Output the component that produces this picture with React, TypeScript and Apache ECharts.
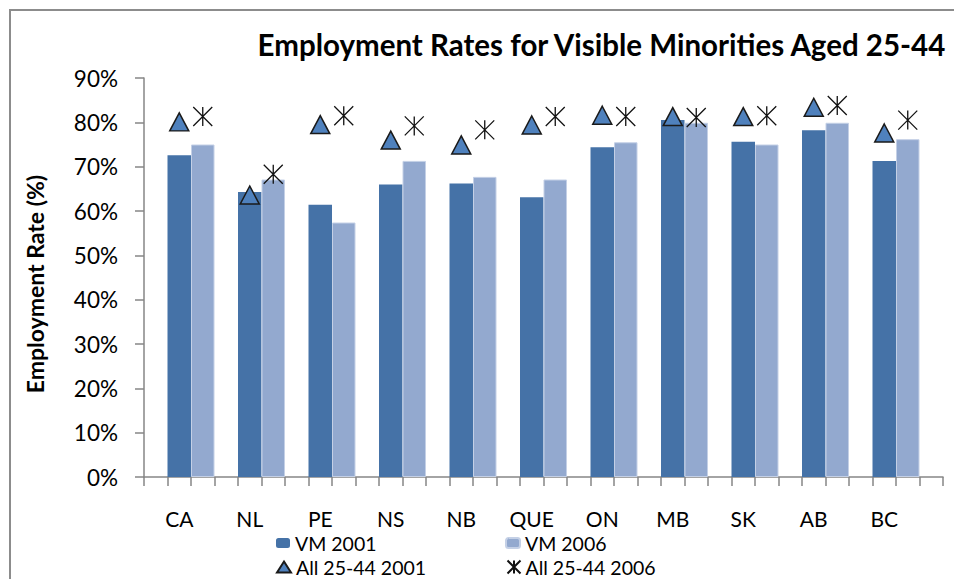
import React, { useEffect, useRef } from "react";
import * as echarts from "echarts";

const categories = ["CA", "NL", "PE", "NS", "NB", "QUE", "ON", "MB", "SK", "AB", "BC"];
const vm2001 = [72.6, 64.3, 61.4, 66.0, 66.2, 63.1, 74.4, 80.5, 75.6, 78.2, 71.3];
const vm2006 = [75.0, 67.1, 57.4, 71.3, 67.7, 67.1, 75.5, 79.9, 75.0, 79.9, 76.2];
const all2001 = [80.1, 63.6, 79.5, 76.0, 74.9, 79.4, 81.6, 81.3, 81.3, 83.4, 77.6];
const all2006 = [81.3, 68.3, 81.5, 79.2, 78.3, 81.3, 81.3, 81.1, 81.5, 83.8, 80.5];
const yTicks = [0, 10, 20, 30, 40, 50, 60, 70, 80, 90];

const seriesNames = ["VM 2001", "VM 2006", "All 25-44 2001", "All 25-44 2006"];
const title = "Employment Rates for Visible Minorities Aged 25-44";
const yName = "Employment Rate (%)";

// Each province occupies three slots on the category axis: dark bar, light bar, gap.
const SLOTS = categories.length * 3 + 1;
const slotNames: string[] = Array.from({ length: SLOTS }, (_, i) => "_" + i);
categories.forEach((c, i) => (slotNames[1 + 3 * i] = c));

function place(values: number[], offset: number): (number | string)[] {
  const arr: (number | string)[] = Array(SLOTS).fill("-");
  values.forEach((v, i) => (arr[offset + 3 * i] = v));
  return arr;
}

const FONT = "Lato, 'Open Sans', sans-serif";
const DARK = "#4572A7";
const LIGHT = "#93A9CF";
const TRI = "#4F81BD";
const AXIS = "#868686";
const STAR = "path://M0,0L20,20M20,0L0,20M10,0L10,20";

export default function App() {
  const ref = useRef<HTMLDivElement>(null);
  useEffect(() => {
    document.body.style.margin = "0";
    const chart = echarts.init(ref.current!, null, { renderer: "svg" });
    const legendBase = {
      orient: "horizontal" as const,
      padding: 0,
      itemGap: 0,
      textStyle: { fontFamily: FONT, fontSize: 19.5, color: "#000", lineHeight: 18 },
    };
    chart.setOption({
      animation: false,
      backgroundColor: "#fff",
      textStyle: { fontFamily: FONT },
      graphic: [
        {
          type: "rect",
          shape: { x: 10, y: 10, width: 1200, height: 1000 },
          style: { fill: "none", stroke: "#8c8c8c", lineWidth: 2 },
          silent: true,
        },
        {
          type: "text",
          x: 35,
          y: 284,
          rotation: Math.PI / 2,
          style: {
            text: yName,
            fontFamily: FONT,
            fontSize: 23,
            fontWeight: "bold",
            fill: "#000",
            align: "center",
            verticalAlign: "middle",
          },
          silent: true,
        },
      ],
      title: {
        text: title,
        right: 6,
        top: 29,
        padding: 0,
        textStyle: { fontFamily: FONT, fontSize: 29.5, fontWeight: "bold", color: "#000" },
      },
      legend: [
        { ...legendBase, data: [seriesNames[0]], left: 276, top: 533, itemWidth: 14, itemHeight: 10 },
        { ...legendBase, data: [seriesNames[1]], left: 505, top: 533, itemWidth: 14, itemHeight: 10 },
        { ...legendBase, data: [seriesNames[2]], left: 276, top: 557, itemWidth: 14, itemHeight: 11 },
        { ...legendBase, data: [seriesNames[3]], left: 505, top: 557, itemWidth: 13, itemHeight: 13 },
      ],
      grid: { left: 144, right: 11, top: 78, bottom: 102, outerBoundsMode: "none" },
      xAxis: {
        type: "category",
        data: slotNames,
        boundaryGap: true,
        axisLine: { lineStyle: { color: AXIS, width: 1.5 } },
        axisTick: { show: true, interval: 0, length: 9, lineStyle: { color: AXIS, width: 1.5 } },
        axisLabel: {
          interval: 0,
          margin: 31,
          fontFamily: FONT,
          fontSize: 21,
          color: "#000",
          formatter: (v: string) => (v.startsWith("_") ? "" : v),
        },
        splitLine: { show: false },
      },
      yAxis: {
        type: "value",
        min: yTicks[0],
        max: yTicks[yTicks.length - 1],
        interval: 10,
        axisLine: { show: true, lineStyle: { color: AXIS, width: 1.5 } },
        axisTick: { show: true, length: 9, lineStyle: { color: AXIS, width: 1.5 } },
        axisLabel: {
          margin: 26,
          fontFamily: FONT,
          fontSize: 22.5,
          color: "#000",
          formatter: (v: number) => v + "%",
        },
        splitLine: { show: false },
      },
      series: [
        {
          name: seriesNames[0],
          type: "bar",
          data: place(vm2001, 1),
          barGap: "-100%",
          barCategoryGap: "0%",
          itemStyle: { color: DARK },
          z: 2,
        },
        {
          name: seriesNames[1],
          type: "bar",
          data: place(vm2006, 2),
          barGap: "-100%",
          barCategoryGap: "0%",
          itemStyle: { color: LIGHT, borderColor: "#c4d0e6", borderWidth: 1 },
          z: 2,
        },
        {
          name: seriesNames[2],
          type: "scatter",
          data: place(all2001, 1),
          symbol: "triangle",
          symbolSize: [19, 18],
          itemStyle: { color: TRI, borderColor: "#1a1a1a", borderWidth: 1.5, opacity: 1 },
          z: 5,
        },
        {
          name: seriesNames[3],
          type: "scatter",
          data: place(all2006, 2),
          symbol: STAR,
          symbolSize: 19,
          itemStyle: { color: "none", borderColor: "#111", borderWidth: 1.3, opacity: 1 },
          z: 5,
        },
      ],
    });
    return () => chart.dispose();
  }, []);
  return (
    <div
      ref={ref}
      style={{ position: "fixed", left: 0, top: 0, width: 954, height: 579 }}
    />
  );
}
